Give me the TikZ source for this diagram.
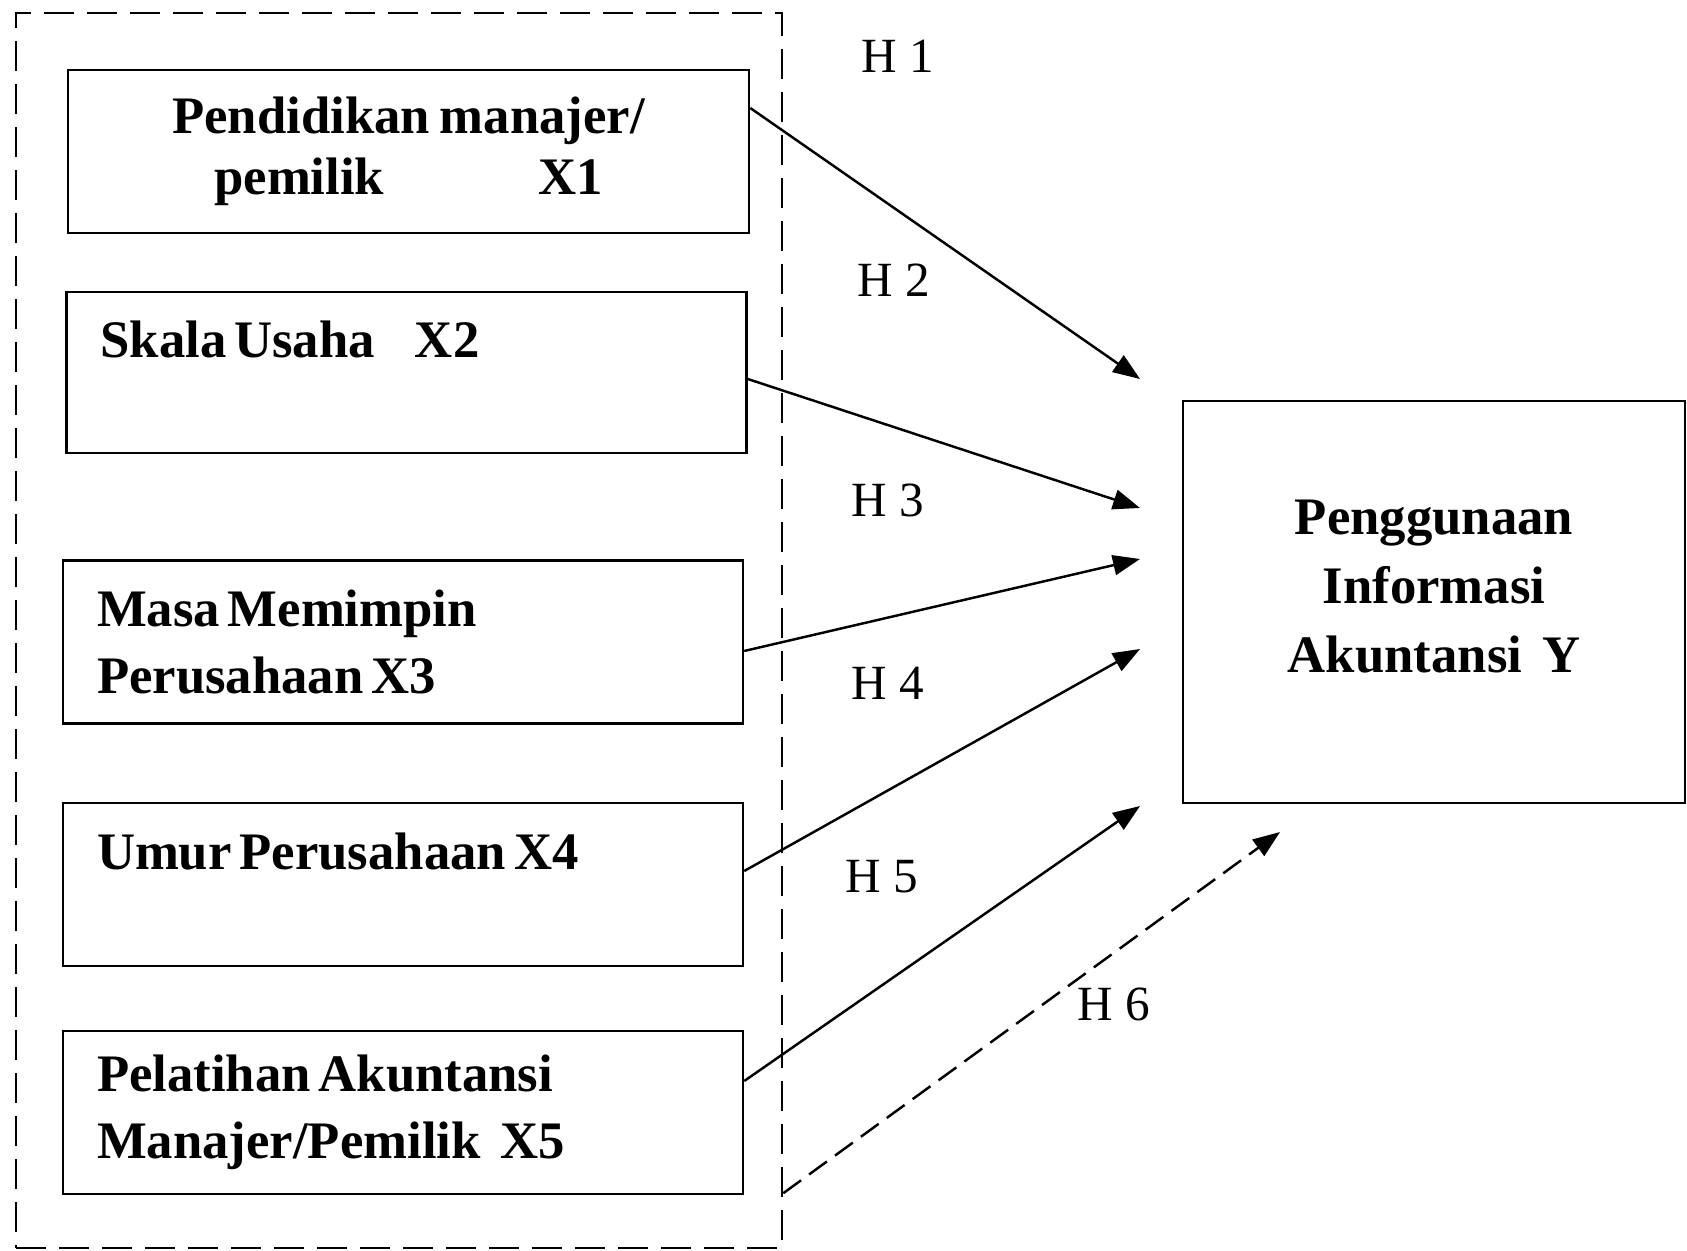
\documentclass[tikz,border=0pt]{standalone}
\usepackage{fontspec}
\setmainfont{Liberation Serif}
\usepackage{tikz}
\usetikzlibrary{arrows.meta, positioning}
\newcommand\tightsp{\spaceskip=0.15em plus 0.05em\relax}

\begin{document}
\begin{tikzpicture}[
    varbox/.style={
      rectangle, draw=black, line width=0.7pt,
      text width=6.12cm, inner xsep=0.34cm, inner ysep=0pt,
      minimum height=1.63cm, align=left,
      font=\fontsize{15}{19}\selectfont\bfseries
    },
    ybox/.style={
      rectangle, draw=black, line width=0.7pt,
      minimum width=5.02cm, minimum height=4.02cm,
      align=center, text depth=0.32cm,
      font=\fontsize{15}{19.6}\selectfont\bfseries
    },
    frame/.style={
      rectangle, draw=black, line width=0.7pt,
      dash pattern=on 0.3cm off 0.13cm,
      minimum width=7.66cm, minimum height=12.35cm
    },
    arr/.style={-{Triangle[length=0.27cm, width=0.2cm]}, line width=0.7pt},
    darr/.style={arr, dash pattern=on 0.22cm off 0.1cm},
    hlbl/.style={font=\fontsize{14}{16}\selectfont}
  ]
  \useasboundingbox (0,0) rectangle (16.87,12.5);

  % ── Independent variables (dashed group) ───────────────────────
  \node[frame] (grp) at (3.99, 6.195) {};

  \node[varbox, align=center, text width=6.13cm,
        font=\fontsize{15}{17.5}\selectfont\bfseries]
                     (x1) at (4.085,10.985) {\tightsp Pendidikan manajer/\\pemilik\hspace{1.54cm}X1};
  \node[varbox, minimum height=1.61cm]
                     (x2) at (4.065, 8.775) {\tightsp Skala Usaha\hspace{0.4cm}X2\\\mbox{}};
  \node[varbox]      (x3) at (4.03,  6.08)  {\tightsp Masa Memimpin\\Perusahaan X3};
  \node[varbox]      (x4) at (4.03,  3.655) {\tightsp Umur Perusahaan X4\\\mbox{}};
  \node[varbox]      (x5) at (4.03,  1.375) {\tightsp Pelatihan Akuntansi\\Manajer/Pemilik\hspace{0.2cm}X5};

  % ── Dependent variable ─────────────────────────────────────────
  \node[ybox] (y) at (14.34, 6.48) {\tightsp Penggunaan\\Informasi\\Akuntansi\hspace{0.2cm}Y};

  % ── Arrow tips (free ends) ─────────────────────────────────────
  \coordinate (e1) at (11.40, 8.71);
  \coordinate (e2) at (11.40, 7.42);
  \coordinate (e3) at (11.40, 6.91);
  \coordinate (e4) at (11.40, 6.01);
  \coordinate (e5) at (11.40, 4.44);
  \coordinate (e6) at (12.80, 4.18);

  \draw[arr]  ([yshift=4.35mm]x1.east)  -- (e1);
  \draw[arr]  ([yshift=-0.65mm]x2.east) -- (e2);
  \draw[arr]  ([yshift=-0.9mm]x3.east)  -- (e3);
  \draw[arr]  ([yshift=1.35mm]x4.east)  -- (e4);
  \draw[arr]  ([yshift=3.15mm]x5.east)  -- (e5);
  \draw[darr] ([yshift=5.6mm]grp.south east) -- (e6);

  % ── Hypothesis labels ──────────────────────────────────────────
  \node[hlbl] (h1) at (8.98, 11.94) {H 1};
  \node[hlbl] (h2) at (8.94,  9.70) {H 2};
  \node[hlbl] (h3) at (8.88,  7.50) {H 3};
  \node[hlbl] (h4) at (8.88,  5.67) {H 4};
  \node[hlbl] (h5) at (8.82,  3.73) {H 5};
  \node[hlbl] (h6) at (11.14, 2.46) {H 6};

\end{tikzpicture}
\end{document}
